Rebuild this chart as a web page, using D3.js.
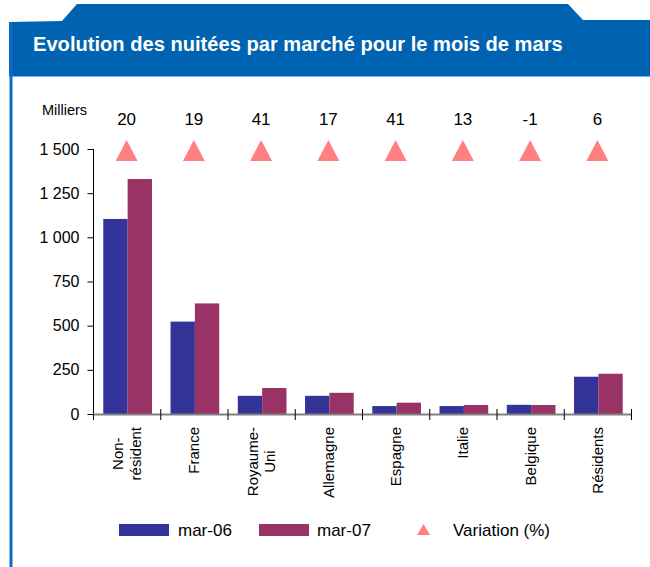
<!DOCTYPE html>
<html>
<head>
<meta charset="utf-8">
<script src="https://cdn.jsdelivr.net/npm/d3@7"></script>
<style>
  body { margin: 0; background: #fff; }
  svg { display: block; font-family: "Liberation Sans", Arial, sans-serif; }
</style>
</head>
<body>
<svg id="chart" width="650" height="567"></svg>
<script>
// data (thousands of nights)
let categories = ["Non-\nrésident", "France", "Royaume-\nUni", "Allemagne", "Espagne", "Italie", "Belgique", "Résidents"];
let series = ["mar-06", "mar-07"];
let mar06 = [1104, 523, 103, 103, 45, 45, 52, 211];
let mar07 = [1330, 626, 147, 120, 64, 51, 51, 228];
let variation = [20, 19, 41, 17, 41, 13, -1, 6];
let yTicks = [0, 250, 500, 750, 1000, 1250, 1500];

let colors = ["#333399", "#993366"];
let triColor = "#ff8080";

let svg = d3.select("#chart");

// header band with tab
let blue = "#0063b1";
svg.append("path")
    .attr("d", "M9,22 L62,21 L77,4 L568,4 L583,20 L650,20 L650,76 L9,76 Z")
    .attr("fill", blue);
svg.append("line")
    .attr("x1", 9).attr("x2", 650).attr("y1", 76.5).attr("y2", 76.5)
    .attr("stroke", "#7fb0e0").attr("stroke-width", 1);
svg.append("rect")
    .attr("x", 9.5).attr("y", 22).attr("width", 3).attr("height", 545)
    .attr("fill", "#0a6cc4");

let title = svg.append("text")
    .attr("x", 33).attr("y", 51)
    .attr("fill", "#fff")
    .attr("font-weight", "bold")
    .attr("font-size", 18)
    .text("Evolution des nuitées par marché pour le mois de mars");
let tw = title.node().getComputedTextLength();
title.attr("font-size", 18 * 530 / tw);

// scales
let x = d3.scaleBand().domain(d3.range(categories.length)).range([93, 631]);
let bw = x.bandwidth();
let x1 = d3.scaleBand().domain(series).range([bw * 0.153, bw * 0.877]);
let y = d3.scaleLinear().domain([0, 1500]).range([414, 149]);

// y axis
let yAxis = d3.axisLeft(y)
    .tickValues(yTicks)
    .tickSize(6)
    .tickPadding(8)
    .tickFormat(d => d3.format(",")(d).replace(",", " "));
let ga = svg.append("g").attr("transform", "translate(93.5,0)").call(yAxis);
ga.select(".domain").attr("stroke", "#000").attr("d", "M0," + y(1500) + "V" + y(0));
ga.selectAll(".tick line").attr("stroke", "#000");
ga.selectAll(".tick text")
    .attr("font-size", 16)
    .attr("fill", "#000")
    .attr("font-family", "Liberation Sans, Arial, sans-serif");

svg.append("text")
    .attr("x", 42).attr("y", 115)
    .attr("font-size", 14.5)
    .text("Milliers");

// bars
let groups = svg.append("g").selectAll("g")
    .data(categories.map((c, i) => ({ i: i, values: [mar06[i], mar07[i]] })))
    .join("g")
    .attr("transform", d => "translate(" + x(d.i) + ",0)");
groups.selectAll("rect")
    .data(d => d.values.map((v, k) => ({ k: k, v: v })))
    .join("rect")
    .attr("x", d => x1(series[d.k]))
    .attr("width", x1.bandwidth())
    .attr("y", d => y(d.v))
    .attr("height", d => y(0) - y(d.v))
    .attr("fill", d => colors[d.k]);

// x axis
svg.append("line")
    .attr("x1", 93).attr("x2", 631)
    .attr("y1", 414.5).attr("y2", 414.5)
    .attr("stroke", "#808080").attr("stroke-width", 2);
svg.append("g").selectAll("line")
    .data(d3.range(categories.length + 1))
    .join("line")
    .attr("x1", i => 93.5 + i * bw).attr("x2", i => 93.5 + i * bw)
    .attr("y1", i => i === 0 ? 414 : 409).attr("y2", 420)
    .attr("stroke", "#000").attr("stroke-width", 1);

// category labels, rotated, hanging under the axis
categories.forEach((c, i) => {
    let lines = c.split("\n");
    let g = svg.append("g");
    let texts = lines.map((l, k) => g.append("text")
        .attr("font-size", 15)
        .attr("text-anchor", "middle")
        .text(l));
    let maxW = d3.max(texts, t => t.node().getComputedTextLength());
    let cx = x(i) + bw / 2;
    let lh = 17.5;
    texts.forEach((t, k) => {
        let off = (k - (lines.length - 1) / 2) * lh + 5.5;
        t.attr("transform", "translate(" + (cx + off) + "," + (427 + maxW / 2) + ") rotate(-90)");
    });
});

// variation row
let tri = (cx, top, w, h) => {
    let p = d3.path();
    p.moveTo(cx, top);
    p.lineTo(cx + w / 2, top + h);
    p.lineTo(cx - w / 2, top + h);
    p.closePath();
    return p.toString();
};
svg.append("g").selectAll("text")
    .data(variation)
    .join("text")
    .attr("x", (d, i) => x(i) + bw / 2)
    .attr("y", 124.5)
    .attr("text-anchor", "middle")
    .attr("font-size", 17)
    .text(d => d);
svg.append("g").selectAll("path")
    .data(variation)
    .join("path")
    .attr("d", (d, i) => tri(x(i) + bw / 2, 140, 22, 21))
    .attr("fill", triColor);

// legend
let legend = svg.append("g");
let legendItems = [
    { label: series[0], color: colors[0], x: 119, tx: 178 },
    { label: series[1], color: colors[1], x: 259, tx: 317 }
];
legendItems.forEach(d => {
    legend.append("rect")
        .attr("x", d.x).attr("y", 524).attr("width", 50).attr("height", 12)
        .attr("fill", d.color);
    legend.append("text")
        .attr("x", d.tx).attr("y", 536)
        .attr("font-size", 17)
        .text(d.label);
});
legend.append("path").attr("d", tri(423.5, 524, 13, 11)).attr("fill", triColor);
legend.append("text")
    .attr("x", 453).attr("y", 536)
    .attr("font-size", 17)
    .text("Variation (%)");
</script>
</body>
</html>
